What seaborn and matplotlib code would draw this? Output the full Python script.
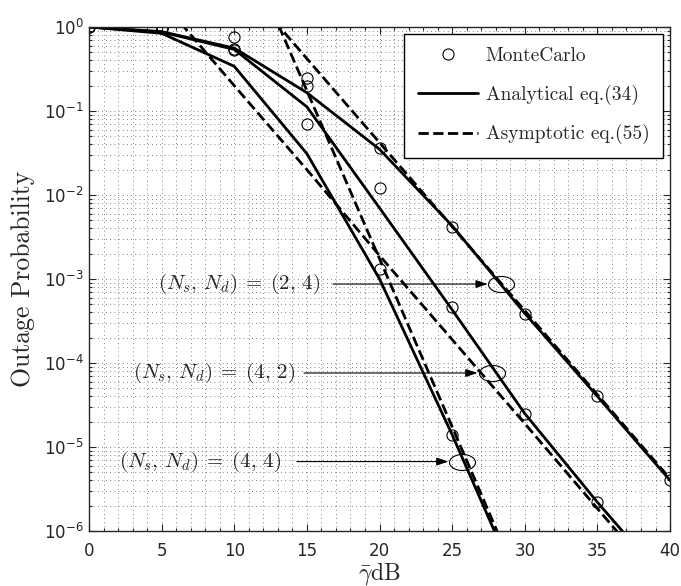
import numpy as np
import pandas as pd
import seaborn as sns
import matplotlib.pyplot as plt
from matplotlib.lines import Line2D
from matplotlib.path import Path
from matplotlib.ticker import MultipleLocator, LogLocator, NullFormatter

# SNR grid (dB)
snr = [0, 5, 10, 15, 20, 25, 30, 35, 40]

# Monte Carlo points per antenna configuration
mc_24 = [1.0, 0.98, 0.75, 0.25, 0.036, 4.2e-3, 3.8e-4, 4.0e-5, 4.0e-6]
mc_42 = [1.0, 0.97, 0.54, 0.20, 0.012, 4.6e-4, 2.5e-5, 2.2e-6]
mc_44 = [1.0, 0.96, 0.53, 0.07, 1.3e-3, 1.4e-5]

# Analytical curves eq.(34)
an_24 = [1.0, 0.88, 0.56, 0.165, 0.035, 4.3e-3, 3.9e-4, 4.0e-5, 4.0e-6]
an_42 = [1.0, 0.87, 0.54, 0.112, 7.0e-3, 4.3e-4, 2.5e-5, 2.2e-6, 2.2e-7]
an_44 = [1.0, 0.84, 0.34, 0.031, 1.0e-3, 1.4e-5, 1.5e-7]

# Asymptotic curves eq.(55)
as_snr_24 = [10, 15, 20, 25, 30, 35, 40]
as_24 = [4.2, 0.42, 0.042, 4.2e-3, 4.2e-4, 4.2e-5, 4.2e-6]
as_snr_42 = [5, 10, 15, 20, 25, 30, 35, 40]
as_42 = [2.05, 0.20, 0.020, 1.9e-3, 1.9e-4, 1.9e-5, 1.85e-6, 1.8e-7]
as_snr_44 = [10, 15, 20, 25, 30]
as_44 = [17.4, 0.174, 1.74e-3, 1.74e-5, 1.7e-7]

# annotation labels, text centres, arrow starts and ellipse centres
ann_labels = [r'$(N_s,\,N_d)\;=\;(2,\,4)$', r'$(N_s,\,N_d)\;=\;(4,\,2)$',
              r'$(N_s,\,N_d)\;=\;(4,\,4)$']
ann_text_x = [10.3, 8.6, 7.65]
ann_arrow_x0 = [16.8, 14.8, 14.3]
ann_arrow_x1 = [27.45, 26.75, 24.75]
ell_x = [28.37, 27.72, 25.65]
ell_y = [8.7e-4, 7.6e-5, 6.7e-6]

sns.set_style('ticks')
plt.rcParams['font.family'] = ['DejaVu Sans']
plt.rcParams['axes.linewidth'] = 1.0

fig = plt.figure(figsize=(6.81, 5.86), dpi=100)
ax = fig.add_axes([0.1307, 0.0939, 0.8532, 0.8601])

# analytical (solid) and asymptotic (dashed) lines
for xs, ys in [(snr, an_24), (snr, an_42), (snr[:len(an_44)], an_44)]:
    sns.lineplot(x=xs, y=ys, ax=ax, color='k', lw=2, estimator=None, sort=False)
for xs, ys in [(as_snr_24, as_24), (as_snr_42, as_42), (as_snr_44, as_44)]:
    sns.lineplot(x=xs, y=ys, ax=ax, color='k', lw=2, linestyle='--',
                 estimator=None, sort=False)

# Monte Carlo circles
for ys in [mc_24, mc_42, mc_44]:
    ax.plot(snr[:len(ys)], ys, ls='none', marker='o', ms=8, mfc='none',
            mec='k', mew=0.8)

# ellipses marking each curve group
t = np.linspace(0, 2 * np.pi, 120)
ell_path = Path(np.column_stack([1.62 * np.cos(t), np.sin(t)]), closed=True)
ax.plot(ell_x, ell_y, ls='none', marker=ell_path, ms=18.7, mfc='none',
        mec='k', mew=0.8)

for lab, tx, x0, x1, yy in zip(ann_labels, ann_text_x, ann_arrow_x0, ann_arrow_x1, ell_y):
    ax.text(tx, yy, lab, ha='center', va='center', fontsize=15,
            math_fontfamily='cm')
    ax.annotate('', xy=(x1, yy), xytext=(x0, yy),
                arrowprops=dict(arrowstyle='-|>,head_length=0.6,head_width=0.2',
                                color='k', lw=0.8, shrinkA=0, shrinkB=0,
                                mutation_scale=12))

ax.set_yscale('log')
ax.set_xlim(0, 40)
ax.set_ylim(1e-6, 1)
ax.set_xticks(snr)
ax.xaxis.set_minor_locator(MultipleLocator(1))
ax.yaxis.set_major_locator(LogLocator(base=10, numticks=10))
ax.yaxis.set_minor_locator(LogLocator(base=10, subs=np.arange(2, 10), numticks=20))
ax.yaxis.set_minor_formatter(NullFormatter())

ax.grid(which='both', ls=(0, (1, 4)), lw=0.6, color='0.35')
ax.tick_params(which='both', direction='in', top=True, right=True, width=0.8)
ax.tick_params(which='major', length=5, labelsize=12)
ax.tick_params(which='minor', length=2.5)
ax.tick_params(axis='x', which='major', pad=8)
ax.tick_params(axis='y', which='major', pad=4)
for s in ax.spines.values():
    s.set_visible(True)

ax.set_ylabel('Outage Probability', fontsize=18.5, family='cmr10', labelpad=6)
ax.set_xlabel(r'$\bar{\gamma}\mathrm{dB}$', fontsize=17, math_fontfamily='cm',
              labelpad=0)

handles = [
    Line2D([], [], ls='none', marker='o', ms=8, mfc='none', mec='k', mew=0.8),
    Line2D([], [], color='k', lw=2),
    Line2D([], [], color='k', lw=2, ls='--'),
]
leg = ax.legend(handles, ['MonteCarlo', 'Analytical eq.(34)', 'Asymptotic eq.(55)'],
                loc='upper right', prop={'family': 'cmr10', 'size': 14},
                fancybox=False, edgecolor='k', framealpha=1, handlelength=3.1,
                labelspacing=1.0, borderpad=0.7, borderaxespad=0.35,
                handletextpad=0.4)
leg.get_frame().set_linewidth(1.0)

fig.savefig('out.png', dpi=100)
